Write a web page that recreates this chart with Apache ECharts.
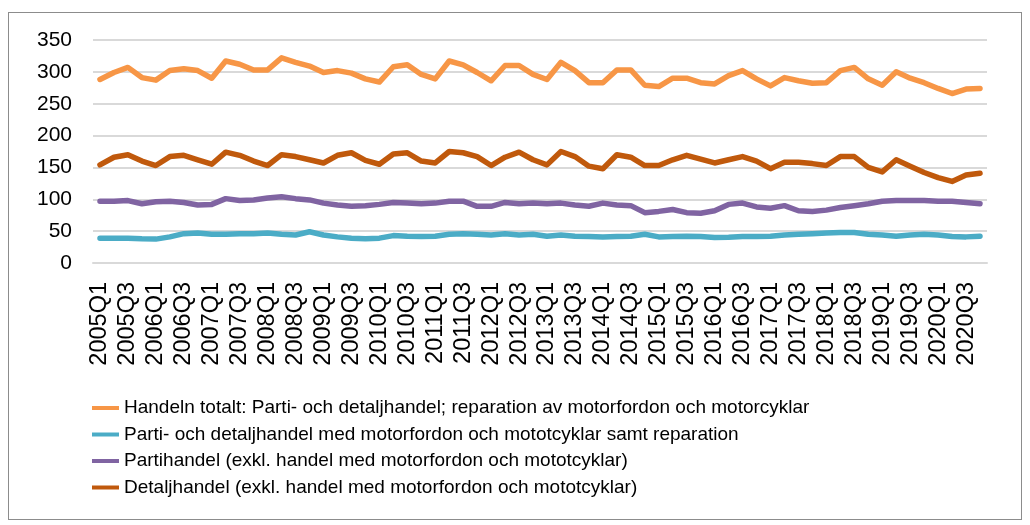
<!DOCTYPE html>
<html>
<head>
<meta charset="utf-8">
<script src="https://cdn.jsdelivr.net/npm/echarts@6/dist/echarts.min.js"></script>
<style>
  html, body { margin: 0; padding: 0; background: #fff; }
  #frame { position: absolute; left: 8px; top: 12px; width: 1012px; height: 506px; border: 1px solid #8c8c8c; }
  #chart { position: absolute; left: 0; top: 0; width: 1030px; height: 525px; }
</style>
</head>
<body>
<div id="frame"></div>
<div id="chart"></div>
<script>
// kvartal 2005Q1 - 2020Q4
var quarters = [];
for (var y = 2005; y <= 2020; y++) {
  for (var q = 1; q <= 4; q++) quarters.push(y + 'Q' + q);
}

var seriesNames = [
  'Handeln totalt: Parti- och detaljhandel; reparation av motorfordon och motorcyklar',
  'Parti- och detaljhandel med motorfordon och mototcyklar samt reparation',
  'Partihandel (exkl. handel med motorfordon och mototcyklar)',
  'Detaljhandel (exkl. handel med motorfordon och mototcyklar)'
];

var handelnTotalt = [288, 299, 307, 291, 287, 302, 305, 302, 290, 317, 312, 303, 303, 322, 315, 309,
  299, 302, 298, 289, 284, 308, 311, 296, 289, 317, 311, 299, 286, 310, 310, 296,
  288, 315, 302, 283, 283, 303, 303, 279, 277, 290, 290, 283, 281, 294, 302, 289,
  278, 291, 286, 282, 283, 302, 307, 289, 279, 300, 290, 283, 274, 266, 273, 274];

var motorfordon = [39, 39, 39, 38, 37.5, 41, 46, 47, 45, 45, 46, 46, 47, 45, 44, 49,
  44, 41, 39, 38, 39, 43, 42, 41.5, 42, 45, 46, 45, 44, 46, 44, 45,
  42, 44, 42, 41.5, 41, 41.5, 42, 45, 41, 41.5, 42, 41.5, 40, 40.5, 41.5, 41.5,
  42, 44, 45, 46, 47, 48, 48, 45, 44, 42, 44, 45, 44, 41.5, 41, 42];

var partihandel = [97, 97, 98, 93, 96, 97, 95, 91, 92, 101, 98, 99, 102, 104, 101, 99,
  94, 91, 89, 90, 92, 95, 94, 93, 94, 97, 97, 89, 89, 95, 93, 94,
  93, 94, 91, 89, 94, 91, 90, 79, 81, 84, 79, 78, 82, 92, 94, 88,
  86, 90, 82, 81, 83, 87, 90, 93, 97, 98, 98, 98, 97, 97, 95, 93];

var detaljhandel = [154, 166, 170, 160, 153, 167, 169, 162, 155, 174, 169, 160, 153, 170, 167, 162,
  157, 169, 173, 161, 155, 171, 173, 160, 157, 175, 173, 167, 153, 166, 174, 162,
  154, 175, 167, 152, 148, 170, 166, 153, 153, 162, 169, 163, 157, 162, 167, 160,
  148, 158, 158, 156, 153, 167, 167, 150, 143, 162, 152, 142, 134, 128, 138, 141];

var colors = ['#F79646', '#4BACC6', '#8064A2', '#C0590C'];

var chart = echarts.init(document.getElementById('chart'));

function lineSeries(name, data, color) {
  return {
    name: name,
    type: 'line',
    data: data,
    symbol: 'none',
    lineStyle: { width: 5.5, color: color, join: 'round', cap: 'round' },
    itemStyle: { color: color },
    emphasis: { disabled: true }
  };
}

chart.setOption({
  animation: false,
  textStyle: { fontFamily: 'Liberation Sans, Arial, sans-serif' },
  grid: { left: 93, right: 43, top: 40, bottom: 262 },
  xAxis: {
    type: 'category',
    data: quarters,
    boundaryGap: true,
    axisLine: { show: true, lineStyle: { color: '#d9d9d9', width: 2 } },
    axisTick: { show: false },
    axisLabel: { rotate: 90, interval: 1, fontSize: 23.5, color: '#000', margin: 19 }
  },
  yAxis: {
    type: 'value',
    min: 0,
    max: 350,
    interval: 50,
    axisLine: { show: false },
    axisTick: { show: false },
    axisLabel: { fontSize: 21, color: '#000', margin: 21 },
    splitLine: { lineStyle: { color: '#d9d9d9', width: 2 } }
  },
  legend: {
    orient: 'vertical',
    left: 92,
    top: 398,
    padding: 0,
    icon: 'rect',
    itemWidth: 27,
    itemHeight: 4,
    itemGap: 6.5,
    textStyle: { fontSize: 19, color: '#000', lineHeight: 20 },
    data: seriesNames
  },
  series: [
    lineSeries(seriesNames[0], handelnTotalt, colors[0]),
    lineSeries(seriesNames[1], motorfordon, colors[1]),
    lineSeries(seriesNames[2], partihandel, colors[2]),
    lineSeries(seriesNames[3], detaljhandel, colors[3])
  ]
});
</script>
</body>
</html>
